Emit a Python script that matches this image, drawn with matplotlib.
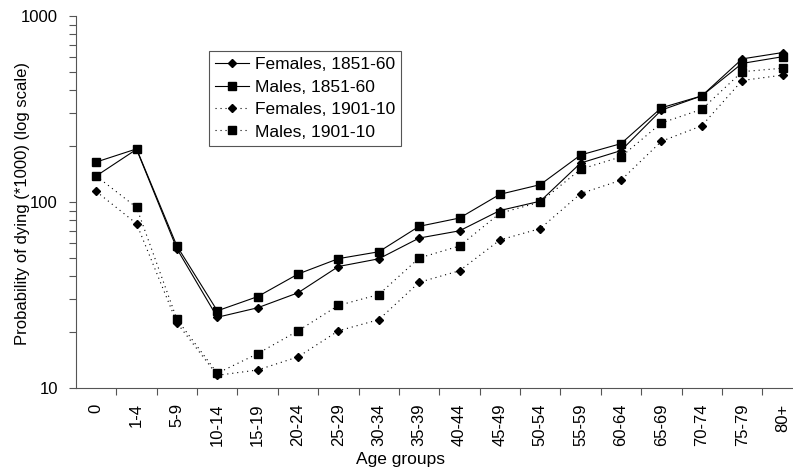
import numpy as np
import matplotlib
matplotlib.use("Agg")
import matplotlib.pyplot as plt
from matplotlib.ticker import FixedLocator, NullFormatter, LogLocator

plt.rcParams['font.family'] = ['Liberation Sans', 'DejaVu Sans']

# Age groups
age_groups = ['0', '1-4', '5-9', '10-14', '15-19', '20-24', '25-29', '30-34',
              '35-39', '40-44', '45-49', '50-54', '55-59', '60-64', '65-69',
              '70-74', '75-79', '80+']

# Probability of dying (*1000)
females_1851 = [138, 192, 56, 24, 27, 32.5, 45, 49.5, 64, 70, 90, 101, 162, 189, 312, 372, 588, 636]
males_1851 = [164, 193, 58, 26, 31, 41, 49.6, 54, 74, 82, 110, 124, 179, 206, 321, 372, 556, 604]
females_1901 = [114, 76.5, 22.4, 11.7, 12.5, 14.7, 20.3, 23.3, 37, 42.7, 62.5, 72, 111, 131, 212, 257, 450, 481]
males_1901 = [138, 93.5, 23.4, 12.0, 15.3, 20.3, 27.8, 31.8, 50, 58, 87, 100, 150, 175, 266, 315, 502, 524]

x = np.arange(len(age_groups))

fig = plt.figure(figsize=(7.93, 4.73), dpi=100)
ax = fig.add_axes([76 / 793, 1 - 388 / 473, 717 / 793, 372 / 473])

lw = 0.8
dots = (0, (1, 3.5))
ax.plot(x, females_1851, color='black', lw=lw, marker='D', ms=4, label='Females, 1851-60')
ax.plot(x, males_1851, color='black', lw=lw, marker='s', ms=6, label='Males, 1851-60')
ax.plot(x, females_1901, color='black', lw=lw, ls=dots, marker='D', ms=4, label='Females, 1901-10')
ax.plot(x, males_1901, color='black', lw=lw, ls=dots, marker='s', ms=6, label='Males, 1901-10')

ax.set_yscale('log')
ax.set_ylim(10, 1000)
ax.set_xlim(-0.5, 17.26)

# y ticks
ax.set_yticks([10, 100, 1000])
ax.set_yticklabels(['10', '100', '1000'])
ax.yaxis.set_minor_locator(LogLocator(base=10, subs=np.arange(2, 10)))
ax.yaxis.set_minor_formatter(NullFormatter())
ax.tick_params(axis='y', which='both', direction='out', length=5, width=0.8,
               color='#555555', labelsize=12, pad=8)

# x ticks: labels at centres, tick marks between groups
ax.set_xticks(x)
ax.set_xticklabels(age_groups, rotation=90)
ax.xaxis.set_minor_locator(FixedLocator(np.arange(0.5, 17, 1)))
ax.tick_params(axis='x', which='major', length=0, labelsize=12, pad=11)
ax.tick_params(axis='x', which='minor', direction='out', length=5, width=0.8, color='#555555')

for side in ['top', 'right']:
    ax.spines[side].set_visible(False)
for side in ['left', 'bottom']:
    ax.spines[side].set_color('#555555')
    ax.spines[side].set_linewidth(0.8)

ax.set_xlabel('Age groups', fontsize=12.5)
ax.xaxis.set_label_coords(0.452, -0.172)
ax.set_ylabel('Probability of dying (*1000) (log scale)', fontsize=12)
ax.yaxis.set_label_coords(-0.064, 0.497)

leg = ax.legend(loc='upper left', bbox_to_anchor=(0.1855, 0.906), borderaxespad=0,
                fontsize=12.5, handlelength=1.95, handletextpad=0.35,
                labelspacing=0.42, borderpad=0.35, fancybox=False, framealpha=1)
leg.get_frame().set_edgecolor('#555555')
leg.get_frame().set_linewidth(0.8)

fig.savefig('out.png', dpi=100)
